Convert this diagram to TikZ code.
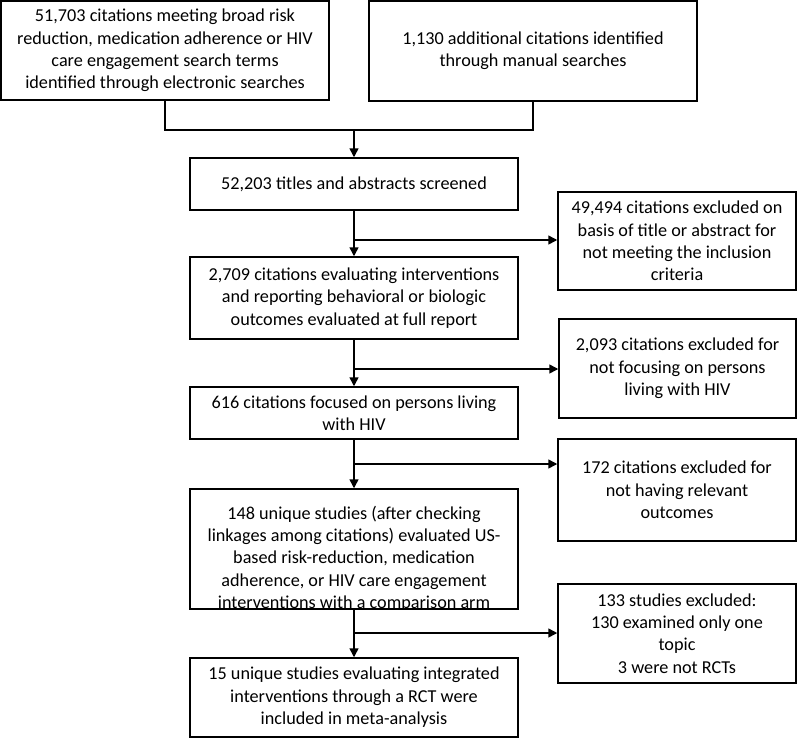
\documentclass[tikz,border=0pt]{standalone}
\usepackage{fontspec}
\setmainfont{Carlito}
\usetikzlibrary{arrows.meta,calc}
\tikzset{
  fbox/.style={draw, line width=1.5pt, align=center, inner sep=0pt,
    font=\fontsize{18.2}{22.4}\selectfont},
  arr/.style={line width=1.5pt, -{Triangle[length=9pt,width=9pt]}},
  ln/.style={line width=1.5pt}
}
\begin{document}
\begin{tikzpicture}[x=1pt,y=-1pt]
\useasboundingbox (0,0) rectangle (800,739);
% top row
\node[fbox, minimum width=328pt, minimum height=99pt] (b1) at (165,50.5)
  {51,703 citations meeting broad risk\\reduction, medication adherence or HIV\\care engagement search terms\\identified through electronic searches};
\node[fbox, minimum width=328pt, minimum height=100pt] (b2) at (533,51)
  {1,130 additional citations identified\\through manual searches};
% main column
\node[fbox, minimum width=328pt, minimum height=52pt] (b3) at (354,184)
  {52,203 titles and abstracts screened};
\node[fbox, minimum width=328pt, minimum height=82pt] (b5) at (354,298)
  {2,709 citations evaluating interventions\\and reporting behavioral or biologic\\outcomes evaluated at full report};
\node[fbox, minimum width=328pt, minimum height=52pt] (b7) at (354,413)
  {616 citations focused on persons living\\with HIV};
\node[fbox, minimum width=328pt, minimum height=120pt,
  path picture={\node[anchor=north, align=center, inner sep=0pt,
    font=\fontsize{18.2}{22.4}\selectfont]
    at ([yshift=-9pt]path picture bounding box.north)
    {148 unique studies (after checking\\linkages among citations) evaluated US-\\based risk-reduction, medication\\adherence, or HIV care engagement\\interventions with a comparison arm};}] (b9) at (354,549) {};
\node[fbox, minimum width=328pt, minimum height=79pt] (b11) at (354,697.5)
  {15 unique studies evaluating integrated\\interventions through a RCT were\\included in meta-analysis};
% exclusion column
\node[fbox, minimum width=238pt, minimum height=98pt] (b4) at (677,241)
  {49,494 citations excluded on\\basis of title or abstract for\\not meeting the inclusion\\criteria};
\node[fbox, minimum width=237pt, minimum height=99pt] (b6) at (677.5,368.5)
  {2,093 citations excluded for\\not focusing on persons\\living with HIV};
\node[fbox, minimum width=238pt, minimum height=102pt] (b8) at (677,490)
  {172 citations excluded for\\not having relevant\\outcomes};
\node[fbox, minimum width=238pt, minimum height=99pt] (b10) at (677,633.5)
  {133 studies excluded:\\130 examined only one\\topic\\3 were not RCTs};
% junction points
\coordinate (m) at (354,130);
\coordinate (j1) at (354,240);
\coordinate (j2) at (354,369);
\coordinate (j3) at (354,464);
\coordinate (j4) at (354,633);
% connectors
\draw[ln] (b1.south) |- (m) -| (b2.south);
\draw[arr] (m) -- (b3.north);
\draw[arr] (b3.south) -- (b5.north);
\draw[arr] (j1) -- (j1 -| b4.west);
\draw[arr] (b5.south) -- (b7.north);
\draw[arr] (j2) -- (j2 -| b6.west);
\draw[arr] (b7.south) -- (b9.north);
\draw[arr] (j3) -- (j3 -| b8.west);
\draw[arr] (b9.south) -- (b11.north);
\draw[arr] (j4) -- (j4 -| b10.west);
\end{tikzpicture}
\end{document}
